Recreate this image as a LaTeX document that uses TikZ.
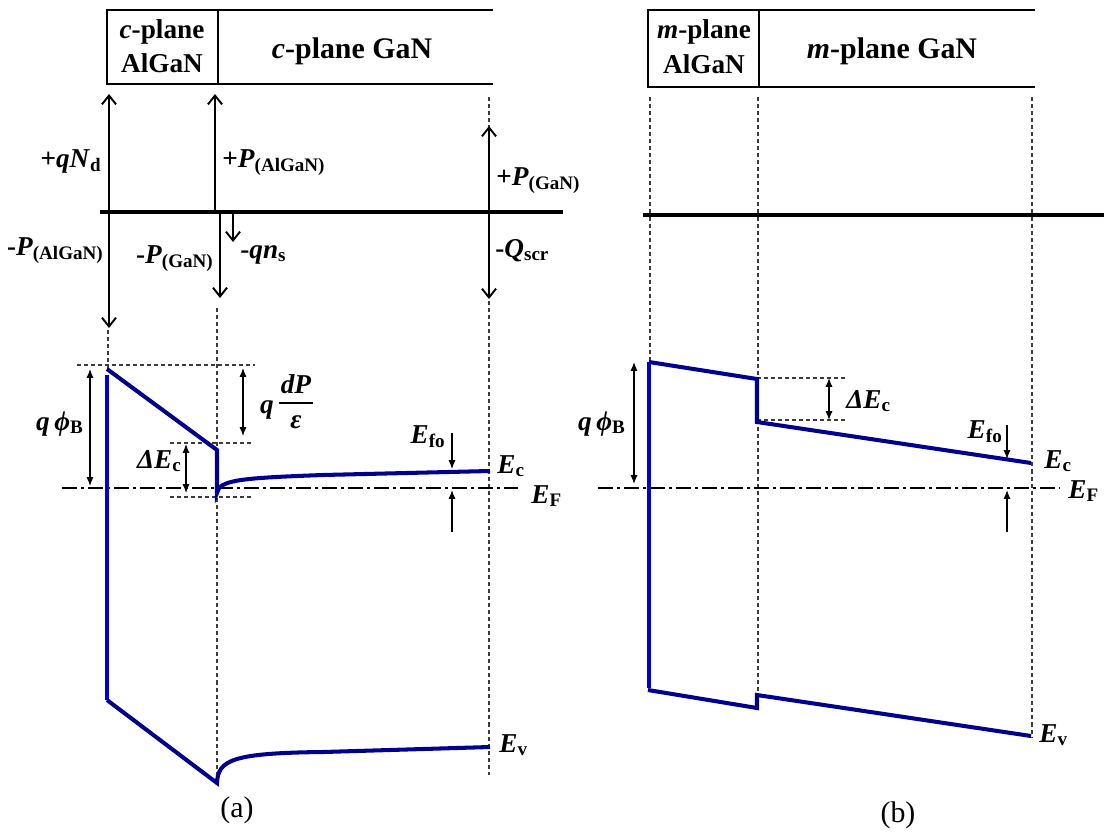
\documentclass[tikz,border=0pt]{standalone}
\usepackage{fontspec}
\setmainfont{Liberation Serif}
\usetikzlibrary{arrows.meta}

\definecolor{bandnavy}{RGB}{0,0,140}
\definecolor{barrierblue}{RGB}{0,0,210}
\definecolor{guidegray}{RGB}{60,60,60}
\newcommand{\bit}[1]{\textbf{\textit{#1}}}
\newcommand{\bsub}[1]{\textsubscript{\textbf{#1}}}

\begin{document}
\begin{tikzpicture}[x=0.02cm, y=-0.02cm,
    band/.style={bandnavy, line width=2.3pt, line join=miter},
    barrier/.style={barrierblue, line width=1.8pt},
    guide/.style={guidegray, line width=0.7pt, dash pattern=on 2.3pt off 1.7pt},
    fermi/.style={black, line width=1.3pt, dash pattern=on 8.5pt off 2.3pt on 1.7pt off 2.3pt},
    charge/.style={-{Straight Barb[length=5pt,width=8pt]}, line width=1.1pt},
    dimarrow/.style={{Latex[length=5pt,width=4pt]}-{Latex[length=5pt,width=4pt]}, line width=0.7pt},
    tickarrow/.style={-{Latex[length=5pt,width=4pt]}, line width=0.7pt},
    lbl/.style={font=\fontsize{15.5}{18}\selectfont\bfseries, inner sep=0pt},
    hdr/.style={font=\fontsize{15.5}{18}\selectfont\bfseries, inner sep=0pt},
    panelcap/.style={font=\fontsize{17}{20}\selectfont, inner sep=0pt}]
\useasboundingbox (0,0) rectangle (1104,835);

% Layer headers
\draw[line width=1.3pt] (493,10) -- (107,10) -- (107,84) -- (493,84);
\draw[line width=0.7pt] (218,10) -- (218,84);
\node[hdr, anchor=base] (cAlGaNa) at (162,38) {\textit{c}-plane};
\node[hdr, anchor=base] (cAlGaNb) at (162,72) {AlGaN};
\node[hdr, anchor=base, font=\fontsize{17}{20}\selectfont\bfseries] (cGaN) at (352,58) {\textit{c}-plane GaN};

\draw[line width=1.3pt] (1035,10) -- (648,10) -- (648,87) -- (1035,87);
\draw[line width=0.7pt] (759,10) -- (759,87);
\node[hdr, anchor=base] (mAlGaNa) at (704,38) {\textit{m}-plane};
\node[hdr, anchor=base] (mAlGaNb) at (704,73) {AlGaN};
\node[hdr, anchor=base, font=\fontsize{17}{20}\selectfont\bfseries] (mGaN) at (892,58) {\textit{m}-plane GaN};

% Interface guides
\draw[guide] (108,330) -- (108,372);
\draw[guide] (217,308) -- (217,783);
\draw[guide] (489,97) -- (489,775);
\draw[guide] (650,97) -- (650,362);
\draw[guide] (758,97) -- (758,695);
\draw[guide] (1032,97) -- (1032,737);

% Charge distribution (a)
\draw[line width=2.2pt] (100,212) -- (563,212);
\draw[charge] (109,212) -- (109,94);
\draw[charge] (109,212) -- (109,328);
\draw[charge] (215,212) -- (215,94);
\draw[charge] (220,212) -- (220,298);
\draw[charge] (233,213) -- (233,242);
\draw[charge] (489,212) -- (489,126);
\draw[charge] (489,212) -- (489,299);
\node[lbl, anchor=base east] (qNd) at (102,167) {+\bit{qN}\bsub{d}};
\node[lbl, anchor=base west] (PAlGaNp) at (222,167) {+\bit{P}\bsub{(AlGaN)}};
\node[lbl, anchor=base east] (PAlGaNm) at (104,255) {-\bit{P}\bsub{(AlGaN)}};
\node[lbl, anchor=base east] (PGaNm) at (214,263) {-\bit{P}\bsub{(GaN)}};
\node[lbl, anchor=base west] (qns) at (240,258) {-\bit{qn}\bsub{s}};
\node[lbl, anchor=base west] (PGaNp) at (496,185) {+\bit{P}\bsub{(GaN)}};
\node[lbl, anchor=base west] (Qscr) at (495,257) {-\bit{Q}\bsub{scr}};

% Charge axis (b)
\draw[line width=2.2pt] (643,215) -- (1104,215);

% Band diagram (a)
\draw[guide] (77,365) -- (255,365);
\draw[guide] (170,443) -- (253,443);
\draw[guide] (170,497) -- (252,497);
\draw[fermi] (62,488) -- (518,488);
\draw[barrier] (107,375) -- (107,700);
\draw[band] (107,369) -- (217,450) -- (217,493)
    .. controls (219,480) and (240,478) .. (323,475) -- (490,471);
\draw[band] (107,700) -- (217,783)
    .. controls (218,760) and (232,753) .. (323,752) -- (490,747);
\draw[dimarrow] (90,369) -- (90,486);
\draw[dimarrow] (243,368) -- (243,436);
\draw[dimarrow] (186,444) -- (186,493);
\draw[tickarrow] (452,433) -- (452,469);
\draw[tickarrow] (452,532) -- (452,490);
\node[lbl, anchor=base east] (qphiBa) at (84,430) {\bit{q\,ϕ}\bsub{B}};
\node[lbl, anchor=base] (qa) at (267,413) {\bit{q}};
\node[lbl, anchor=base] (dPa) at (296,393) {\bit{dP}};
\node[lbl, anchor=base] (epsa) at (296,428) {\bit{ε}};
\draw[line width=1.3pt] (279,403) -- (313,403);
\node[lbl, anchor=base east] (dEca) at (182,468) {\bit{ΔE}\bsub{c}};
\node[lbl, anchor=base east] (Efoa) at (446,443) {\bit{E}\bsub{fo}};
\node[lbl, anchor=base west] (Eca) at (497,473) {\bit{E}\bsub{c}};
\node[lbl, anchor=base west] (EFa) at (531,503) {\bit{E}\bsub{F}};
\node[lbl, anchor=base west] (Eva) at (499,752) {\bit{E}\bsub{v}};
\node[panelcap] (capa) at (237,810) {(a)};

% Band diagram (b)
\draw[guide] (757,378) -- (846,378);
\draw[guide] (757,420) -- (846,420);
\draw[fermi] (598,488) -- (1060,488);
\draw[barrier] (649,362) -- (649,688);
\draw[band] (649,362) -- (757,379) -- (757,422) -- (1031,463);
\draw[band] (648,690) -- (757,708) -- (757,695) -- (1031,736);
\draw[dimarrow] (634,362) -- (634,484);
\draw[dimarrow] (829,378) -- (829,420);
\draw[tickarrow] (1007,425) -- (1007,459);
\draw[tickarrow] (1007,532) -- (1007,490);
\node[lbl, anchor=base east] (qphiBb) at (626,430) {\bit{q\,ϕ}\bsub{B}};
\node[lbl, anchor=base west] (dEcb) at (846,408) {\bit{ΔE}\bsub{c}};
\node[lbl, anchor=base east] (Efob) at (1003,438) {\bit{E}\bsub{fo}};
\node[lbl, anchor=base west] (Ecb) at (1044,468) {\bit{E}\bsub{c}};
\node[lbl, anchor=base west] (EFb) at (1068,498) {\bit{E}\bsub{F}};
\node[lbl, anchor=base west] (Evb) at (1039,742) {\bit{E}\bsub{v}};
\node[panelcap] (capb) at (898,815) {(b)};
\end{tikzpicture}
\end{document}
